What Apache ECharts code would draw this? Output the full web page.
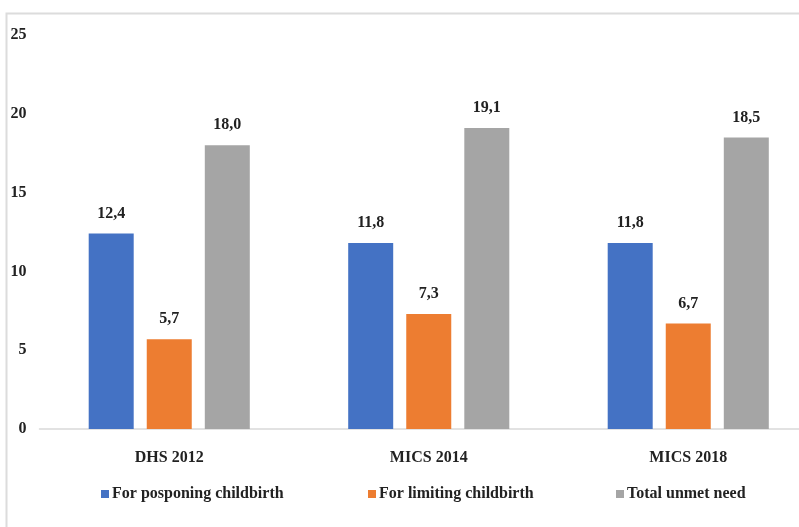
<!DOCTYPE html>
<html>
<head>
<meta charset="utf-8">
<script src="https://cdn.jsdelivr.net/npm/echarts@6/dist/echarts.min.js"></script>
<style>
  html, body { margin: 0; padding: 0; background: #fff; overflow: hidden; }
  /* the plot area runs past the right edge of the page, as in the source figure */
  #chart { width: 818px; height: 527px; }
</style>
</head>
<body>
<div id="chart"></div>
<script>
// Unmet need for family planning by survey round
const categories = ['DHS 2012', 'MICS 2014', 'MICS 2018'];
const posponing = [12.4, 11.8, 11.8];
const limiting = [5.7, 7.3, 6.7];
const totalUnmet = [18.0, 19.1, 18.5];
const seriesNames = ['For posponing childbirth', 'For limiting childbirth', 'Total unmet need'];
const yTicks = [0, 5, 10, 15, 20, 25];

const FONT = '"Liberation Serif", "Times New Roman", serif';
const colors = ['#4472C4', '#ED7D31', '#A5A5A5'];
const fmt = v => v.toFixed(1).replace('.', ',');

function barSeries(name, data, color) {
  return {
    name: name,
    type: 'bar',
    data: data,
    barWidth: 45,
    barGap: '29%',
    itemStyle: { color: color },
    label: {
      show: true,
      position: 'top',
      distance: 12,
      formatter: p => fmt(p.value),
      fontFamily: FONT,
      fontWeight: 'bold',
      fontSize: 16,
      color: '#222'
    }
  };
}

function legendAt(name, left) {
  return {
    data: [name],
    left: left,
    top: 486,
    icon: 'rect',
    itemWidth: 8,
    itemHeight: 8,
    itemGap: 4,
    padding: 0,
    textStyle: { fontFamily: FONT, fontWeight: 'bold', fontSize: 16, color: '#222', padding: [0, 0, 0, -2] }
  };
}

const chart = echarts.init(document.getElementById('chart'), null, { renderer: 'canvas' });
chart.setOption({
  animation: false,
  backgroundColor: '#fff',
  color: colors,
  graphic: [{
    type: 'rect',
    shape: { x: 6.5, y: 13.5, width: 900, height: 700 },
    style: { fill: 'none', stroke: '#dcdcdc', lineWidth: 2 },
    silent: true,
    z: -1
  }],
  legend: [
    legendAt(seriesNames[0], 101),
    legendAt(seriesNames[1], 368),
    legendAt(seriesNames[2], 616)
  ],
  grid: { left: 39.5, top: 35, height: 394, right: 0, containLabel: false },
  xAxis: {
    type: 'category',
    data: categories,
    axisLine: { lineStyle: { color: '#d9d9d9', width: 1.5 } },
    axisTick: { show: false },
    axisLabel: {
      margin: 21,
      fontFamily: FONT,
      fontWeight: 'bold',
      fontSize: 16,
      color: '#222'
    }
  },
  yAxis: {
    type: 'value',
    min: yTicks[0],
    max: yTicks[yTicks.length - 1],
    interval: 5,
    axisLine: { show: false },
    axisTick: { show: false },
    splitLine: { show: false },
    axisLabel: {
      margin: 13,
      fontFamily: FONT,
      fontWeight: 'bold',
      fontSize: 16,
      color: '#222'
    }
  },
  series: [
    barSeries(seriesNames[0], posponing, colors[0]),
    barSeries(seriesNames[1], limiting, colors[1]),
    barSeries(seriesNames[2], totalUnmet, colors[2])
  ]
});
</script>
</body>
</html>
